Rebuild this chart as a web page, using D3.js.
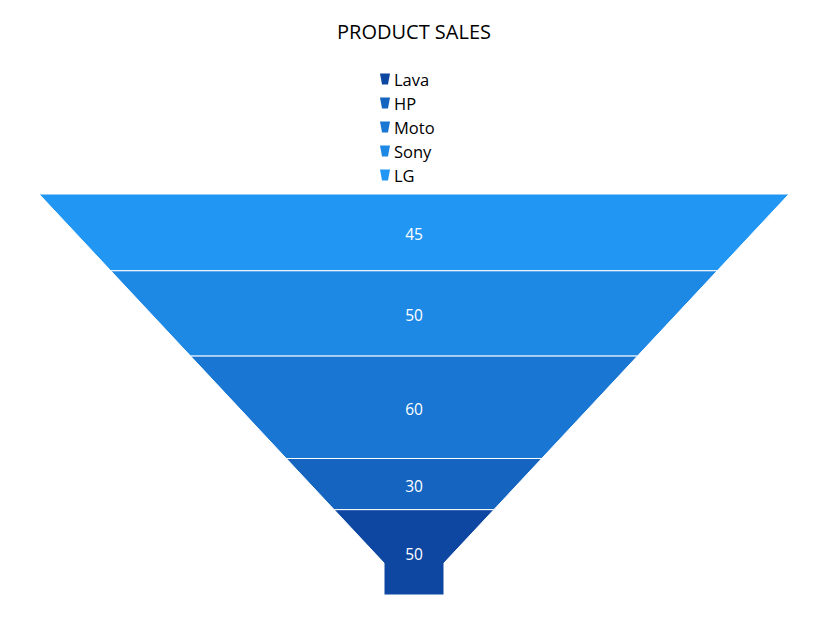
<!DOCTYPE html>
<html><head><meta charset="utf-8">
<script src="https://cdn.jsdelivr.net/npm/d3@7"></script>
<style>body{margin:0;background:#fff;}svg{display:block;font-family:"Segoe UI","Open Sans","Noto Sans",sans-serif;}</style>
</head><body>
<script>
const categories = ["Lava", "HP", "Moto", "Sony", "LG"];
const values = [50, 30, 60, 50, 45];
const colors = ["#0D47A1", "#1565C0", "#1976D2", "#1E88E5", "#2196F3"];
const title = "PRODUCT SALES";

const W = 820, H = 619;
const svg = d3.select("body").append("svg").attr("width", W).attr("height", H);

svg.append("text").attr("x", 414).attr("y", 31).attr("text-anchor", "middle")
  .attr("dominant-baseline", "central").attr("font-size", 20).attr("fill", "#000").text(title);

// legend
const lg = svg.append("g");
categories.forEach((c, i) => {
  const cy = 79 + i * 24;
  lg.append("path").attr("d", `M380,${cy-5.5}L390,${cy-5.5}L388,${cy+5.5}L382,${cy+5.5}Z`).attr("fill", colors[i]);
  lg.append("text").attr("x", 394).attr("y", cy).attr("dominant-baseline", "central")
    .attr("font-size", 16.5).attr("fill", "#000").text(c);
});

// funnel: top is last category
const order = d3.range(categories.length).reverse();
const total = d3.sum(values);
const y = d3.scaleLinear().domain([0, total]).range([194, 595]);
const cx = 414, topHalf = 375, neckHalf = 30, neckY = 563;
const slope = (topHalf - neckHalf) / (neckY - 194);
const half = yy => Math.max(neckHalf, topHalf - (yy - 194) * slope);

let cum = 0;
const g = svg.append("g");
order.forEach(i => {
  const y0 = y(cum), y1 = y(cum + values[i]);
  cum += values[i];
  const pts = [[cx - half(y0), y0], [cx + half(y0), y0]];
  if (y0 < neckY && y1 > neckY) pts.push([cx + neckHalf, neckY]);
  pts.push([cx + half(y1), y1], [cx - half(y1), y1]);
  if (y0 < neckY && y1 > neckY) pts.push([cx - neckHalf, neckY]);
  g.append("path").attr("d", d3.line()(pts) + "Z").attr("fill", colors[i])
    .attr("stroke", "#fff").attr("stroke-width", 1);
  g.append("text").attr("x", cx).attr("y", (y0 + y1) / 2 + 2).attr("text-anchor", "middle")
    .attr("dominant-baseline", "central").attr("font-size", 15.5).attr("fill", "#fff").text(values[i]);
});
</script>
</body></html>
